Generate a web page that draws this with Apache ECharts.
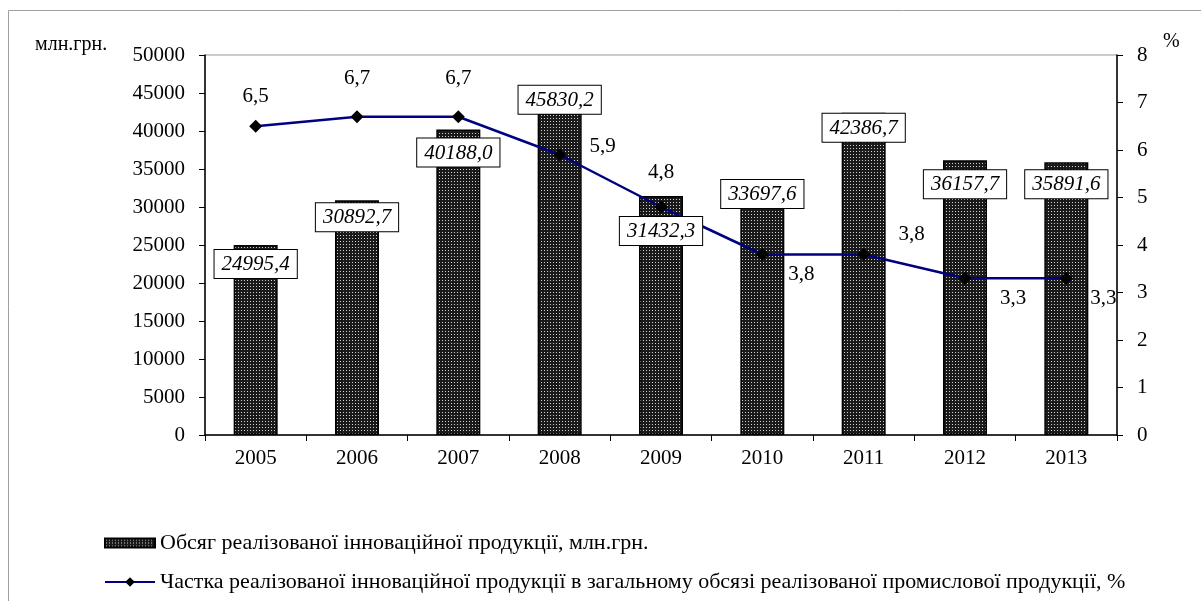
<!DOCTYPE html>
<html>
<head>
<meta charset="utf-8">
<script src="https://cdn.jsdelivr.net/npm/echarts@6/dist/echarts.min.js"></script>
<style>
  html, body { margin: 0; padding: 0; background: #fff; }
  #chart { width: 1201px; height: 601px; }
</style>
</head>
<body>
<div id="chart"></div>
<script>
  // data
  const years = ['2005', '2006', '2007', '2008', '2009', '2010', '2011', '2012', '2013']
  const volume = [24995.4, 30892.7, 40188.0, 45830.2, 31432.3, 33697.6, 42386.7, 36157.7, 35891.6]
  const share = [6.5, 6.7, 6.7, 5.9, 4.8, 3.8, 3.8, 3.3, 3.3]
  const volumeName = 'Обсяг реалізованої інноваційної продукції, млн.грн.'
  const shareName = 'Частка реалізованої інноваційної продукції в загальному обсязі реалізованої промислової продукції, %'

  // label placement (layout only)
  const volumeLabelShift = [5, 3, 9, -1, 21, 1, 1, 10, 8]
  const shareLabelOffset = [[0, -30], [0, -38], [0, -38], [43, -8], [0, -35], [39, 20], [48, -20], [48, 20], [37, 20]]

  const font = "'Liberation Serif', 'Times New Roman', serif"
  const fmt = v => Number(v).toFixed(1).replace('.', ',')

  // dotted bar fill
  const tile = document.createElement('canvas')
  tile.width = 3
  tile.height = 3
  const tctx = tile.getContext('2d')
  tctx.fillStyle = '#1a1a1a'
  tctx.fillRect(0, 0, 3, 3)
  tctx.fillStyle = '#d0d0d0'
  tctx.fillRect(1, 1, 1, 1)
  const barFill = { image: tile, repeat: 'repeat' }

  const chart = echarts.init(document.getElementById('chart'))

  chart.setOption({
    animation: false,
    textStyle: { fontFamily: font },
    graphic: [
      {
        type: 'rect',
        shape: { x: 8.5, y: 10.5, width: 1200, height: 600 },
        style: { fill: 'none', stroke: '#a0a0a0', lineWidth: 1 },
        z: 0
      },
      {
        type: 'text', left: 35, top: 35,
        style: { text: 'млн.грн.', font: '20px ' + font, fill: '#000' }
      },
      {
        type: 'text', left: 1163, top: 32,
        style: { text: '%', font: '20px ' + font, fill: '#000' }
      }
    ],
    grid: {
      left: 205, right: 84, top: 55, bottom: 166,
      show: true, borderColor: '#999', borderWidth: 1, backgroundColor: 'transparent'
    },
    legend: [
      {
        data: [volumeName],
        left: 104, top: 532, padding: 0,
        itemWidth: 50, itemHeight: 9, itemGap: 4,
        icon: 'rect',
        textStyle: { fontFamily: font, fontSize: 22, color: '#000' }
      },
      {
        data: [shareName],
        left: 104, top: 571, padding: 0,
        itemWidth: 50, itemHeight: 12, itemGap: 4,
        textStyle: { fontFamily: font, fontSize: 22, color: '#000' }
      }
    ],
    xAxis: {
      type: 'category',
      data: years,
      axisLine: { lineStyle: { color: '#000', width: 1.5 } },
      axisTick: { show: true, length: 6, lineStyle: { color: '#000' } },
      axisLabel: { color: '#000', fontSize: 21, fontFamily: font, margin: 13 }
    },
    yAxis: [
      {
        type: 'value', min: 0, max: 50000, interval: 5000,
        axisLine: { show: true, lineStyle: { color: '#000', width: 1.5 } },
        axisTick: { show: true, length: 6, lineStyle: { color: '#000' } },
        axisLabel: { color: '#000', fontSize: 21, fontFamily: font, margin: 20, formatter: v => String(v) },
        splitLine: { show: false }
      },
      {
        type: 'value', min: 0, max: 8, interval: 1,
        position: 'right',
        axisLine: { show: true, lineStyle: { color: '#000', width: 1.5 } },
        axisTick: { show: true, length: 6, lineStyle: { color: '#000' } },
        axisLabel: { color: '#000', fontSize: 21, fontFamily: font, margin: 20, formatter: v => String(v) },
        splitLine: { show: false }
      }
    ],
    series: [
      {
        name: volumeName,
        type: 'bar',
        barWidth: 44,
        barGap: '-100%',
        z: 2,
        itemStyle: { color: barFill, borderColor: '#000', borderWidth: 1.5 },
        data: volume
      },
      {
        name: shareName,
        type: 'line',
        yAxisIndex: 1,
        z: 3,
        symbol: 'diamond',
        symbolSize: 13,
        itemStyle: { color: '#000' },
        lineStyle: { color: '#000080', width: 2.5 },
        data: share.map((v, i) => ({
          value: v,
          label: {
            show: true,
            position: 'inside',
            offset: shareLabelOffset[i],
            formatter: p => fmt(p.value),
            color: '#000',
            fontSize: 21,
            fontFamily: font
          }
        }))
      },
      {
        // overlay that only carries the boxed value labels above the line
        name: 'volumeLabels',
        type: 'bar',
        barWidth: 44,
        barGap: '-100%',
        z: 5,
        silent: true,
        itemStyle: { color: 'transparent' },
        data: volume.map((v, i) => ({
          value: v,
          label: {
            show: true,
            position: 'insideTop',
            distance: 0,
            offset: [0, volumeLabelShift[i]],
            formatter: p => fmt(p.value),
            color: '#000',
            fontSize: 21,
            fontStyle: 'italic',
            fontFamily: font,
            backgroundColor: '#fff',
            borderColor: '#000',
            borderWidth: 1,
            padding: [4, 7, 3, 7]
          }
        }))
      }
    ]
  })
</script>
</body>
</html>
